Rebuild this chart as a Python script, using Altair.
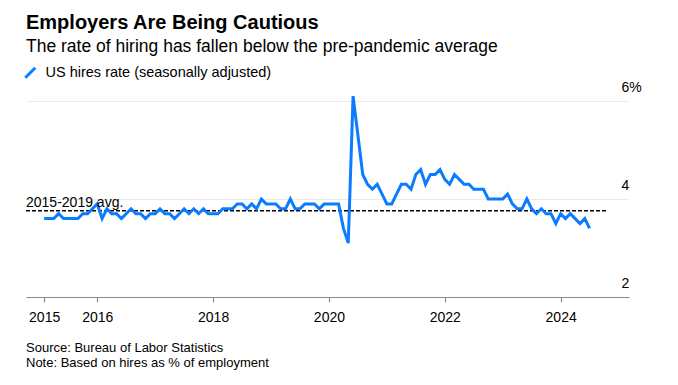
import altair as alt
import pandas as pd

TITLE = "Employers Are Being Cautious"
SUBTITLE = "The rate of hiring has fallen below the pre-pandemic average"
SERIES = "US hires rate (seasonally adjusted)"
SOURCE = ["Source: Bureau of Labor Statistics", "Note: Based on hires as % of employment"]
AVG_LABEL = "2015-2019 avg."

START_YEAR = 2015  # first observation: January 2015, monthly through June 2024
HIRES_2015 = [3.6, 3.6, 3.6, 3.7, 3.6, 3.6, 3.6, 3.6, 3.7, 3.7, 3.8, 3.9]
HIRES_2016 = [3.6, 3.8, 3.7, 3.7, 3.6, 3.7, 3.8, 3.7, 3.7, 3.6, 3.7, 3.7]
HIRES_2017 = [3.8, 3.7, 3.7, 3.6, 3.7, 3.8, 3.7, 3.8, 3.7, 3.8, 3.7, 3.7]
HIRES_2018 = [3.7, 3.8, 3.8, 3.8, 3.9, 3.9, 3.8, 3.9, 3.8, 4.0, 3.9, 3.9]
HIRES_2019 = [3.9, 3.8, 3.8, 4.0, 3.8, 3.8, 3.9, 3.9, 3.9, 3.8, 3.9, 3.9]
HIRES_2020 = [3.9, 3.9, 3.4, 3.1, 6.1, 5.3, 4.5, 4.3, 4.2, 4.3, 4.1, 3.9]
HIRES_2021 = [3.9, 4.1, 4.3, 4.3, 4.2, 4.5, 4.6, 4.3, 4.5, 4.5, 4.6, 4.4]
HIRES_2022 = [4.3, 4.5, 4.4, 4.3, 4.3, 4.2, 4.2, 4.2, 4.0, 4.0, 4.0, 4.0]
HIRES_2023 = [4.1, 3.9, 3.8, 3.8, 4.0, 3.8, 3.7, 3.8, 3.7, 3.7, 3.5, 3.7]
HIRES_2024 = [3.6, 3.7, 3.6, 3.5, 3.6, 3.4]

AVG = 3.76
AVG_END = 2024.8

X_TICKS = [2015.0833, 2016, 2018, 2020, 2022, 2024]
Y_TICKS = [2, 4, 6]
X_DOMAIN = [2014.77, 2025.18]
Y_DOMAIN = [2, 6]

BLUE = "#0b7bff"
FONT = "Liberation Sans"

years = [HIRES_2015, HIRES_2016, HIRES_2017, HIRES_2018, HIRES_2019,
         HIRES_2020, HIRES_2021, HIRES_2022, HIRES_2023, HIRES_2024]
rows = []
for yi, vals in enumerate(years):
    for mi, v in enumerate(vals):
        rows.append({"t": START_YEAR + yi + (mi + 1) / 12, "rate": v, "series": SERIES})
df = pd.DataFrame(rows)

avg_df = pd.DataFrame({"x0": [X_DOMAIN[0]], "x1": [AVG_END], "avg": [AVG], "label": [AVG_LABEL]})
note_df = pd.DataFrame({"note": ["\n".join(SOURCE)]})

W, H = 603, 196

x_enc = alt.X(
    "t:Q",
    scale=alt.Scale(domain=X_DOMAIN, nice=False, zero=False),
    axis=alt.Axis(
        values=X_TICKS, labelExpr="'' + floor(datum.value)", grid=False,
        domain=True, domainColor="#8a8a8a", domainWidth=1.2,
        tickColor="#8a8a8a", tickSize=5, tickWidth=1.2,
        labelFontSize=14, labelPadding=8.5, labelColor="#000", labelFont=FONT,
        labelOverlap=False, title=None,
    ),
)
y_enc = alt.Y(
    "rate:Q",
    scale=alt.Scale(domain=Y_DOMAIN, nice=False, zero=False),
    axis=alt.Axis(
        orient="right", values=Y_TICKS,
        labelExpr="datum.value == 6 ? '6%' : datum.label",
        grid=True, gridColor="#ebebeb", gridWidth=1, domain=False, ticks=False,
        labelAlign="left", labelBaseline="alphabetic", labelOffset=-10,
        labelPadding=-8, labelFontSize=14, labelColor="#000", labelFont=FONT,
        title=None,
    ),
)

line = alt.Chart(df).mark_line(strokeWidth=3).encode(
    x=x_enc,
    y=y_enc,
    color=alt.Color(
        "series:N",
        scale=alt.Scale(domain=[SERIES], range=[BLUE]),
        legend=alt.Legend(
            orient="none", legendX=-3, legendY=-35.5, title=None,
            symbolType="M-1,1L1,-1", symbolStrokeWidth=3, symbolSize=100,
            labelFontSize=14.5, labelOffset=8, labelFont=FONT, labelColor="#000",
            labelLimit=0,
        ),
    ),
)

rule = alt.Chart(avg_df).mark_rule(strokeDash=[4, 2], strokeWidth=1.5, color="#000").encode(
    x="x0:Q", x2="x1:Q", y="avg:Q"
)
avg_text = alt.Chart(avg_df).mark_text(
    align="left", baseline="alphabetic", dy=-4, fontSize=14, font=FONT, color="#000"
).encode(x="x0:Q", y="avg:Q", text="label:N")

note = alt.Chart(note_df).mark_text(
    align="left", baseline="alphabetic", fontSize=13, font=FONT, color="#000",
    lineBreak="\n", lineHeight=15.7,
).encode(x=alt.value(0), y=alt.value(H + 54.5), text="note:N")

chart = alt.layer(rule, line, avg_text, note).properties(
    width=W, height=H,
    padding={"left": 15, "top": 4, "right": 10, "bottom": 5},
    title=alt.TitleParams(
        text=TITLE, subtitle=SUBTITLE, anchor="start", frame="group",
        fontSize=20, fontWeight="bold", font=FONT, color="#000",
        subtitleFontSize=17.5, subtitleFont=FONT, subtitleColor="#000",
        subtitlePadding=5, offset=10.5,
    ),
).configure_view(stroke=None)

chart.save("out.html", embed_options={"renderer": "svg", "actions": False})
